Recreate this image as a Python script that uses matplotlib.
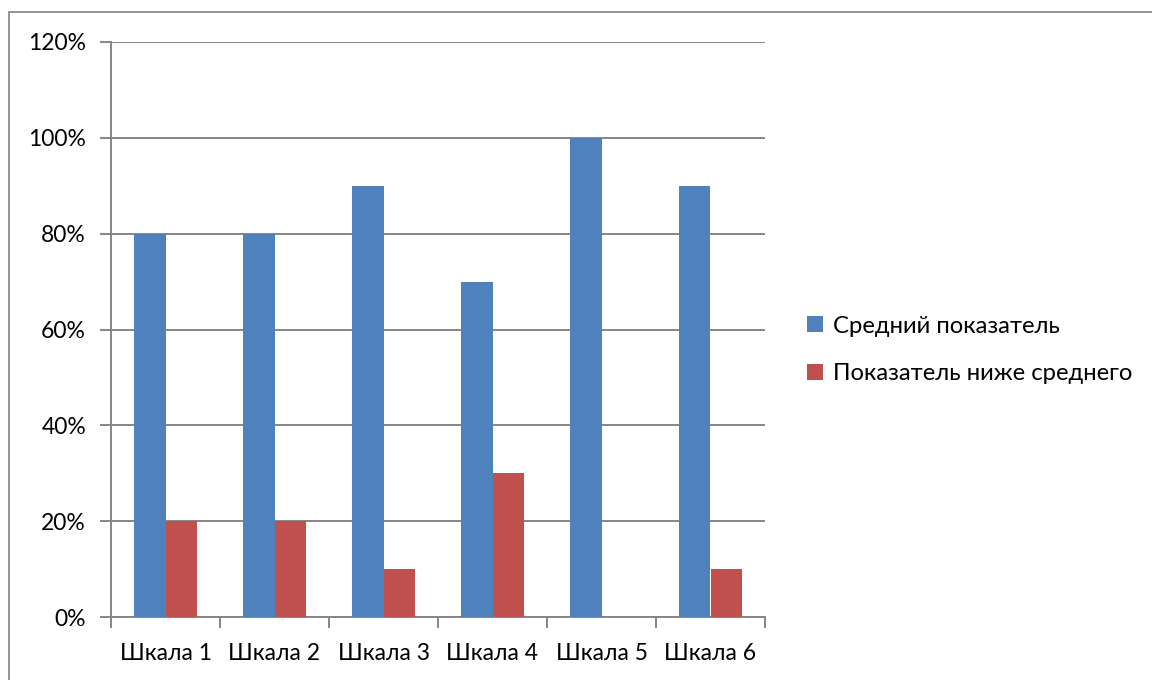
import matplotlib
matplotlib.use("Agg")
import matplotlib.pyplot as plt
from matplotlib.patches import Rectangle
from matplotlib.ticker import FixedLocator, PercentFormatter
import numpy as np

plt.rcParams['font.family'] = ['Lato', 'DejaVu Sans']

categories = ["Шкала 1", "Шкала 2", "Шкала 3", "Шкала 4", "Шкала 5", "Шкала 6"]
series_names = ["Средний показатель", "Показатель ниже среднего"]
avg_values = [80, 80, 90, 70, 100, 90]
below_values = [20, 20, 10, 30, 0, 10]
y_ticks = [0, 20, 40, 60, 80, 100, 120]

blue = "#4F81BD"
red = "#C0504D"
grid_gray = "#868686"
fs = 16.5

W, H = 1152, 680
fig = plt.figure(figsize=(W / 100, H / 100), dpi=100)
fig.patch.set_facecolor("white")

# outer chart-area frame
fig.add_artist(Rectangle((9 / W, -0.1), 1.2, (H - 12) / H + 0.1,
                         transform=fig.transFigure, fill=False,
                         edgecolor="#8C8C8C", linewidth=1.3))

ax = fig.add_axes([111 / W, 1 - 617 / H, (765 - 111) / W, (617 - 42) / H])

x = np.arange(len(categories))
bw = 1 / 3.5
ax.bar(x - bw / 2, avg_values, width=bw, color=blue, label=series_names[0], zorder=3)
ax.bar(x + bw / 2, below_values, width=bw, color=red, label=series_names[1], zorder=3)

ax.set_xlim(-0.5, len(categories) - 0.5)
ax.set_ylim(0, 120)
ax.set_yticks(y_ticks)
ax.yaxis.set_major_formatter(PercentFormatter(decimals=0))
ax.grid(axis="y", color=grid_gray, linewidth=1.4, zorder=0)

ax.set_xticks(x)
ax.set_xticklabels(categories)
ax.xaxis.set_minor_locator(FixedLocator(np.arange(-0.5, len(categories), 1.0)))
ax.tick_params(axis="x", which="major", length=0, pad=19, labelsize=fs)
ax.tick_params(axis="x", which="minor", length=8, width=1.4, color=grid_gray)
ax.tick_params(axis="y", length=8, width=1.4, color=grid_gray, pad=10, labelsize=fs)

for s in ("top", "right"):
    ax.spines[s].set_visible(False)
for s in ("left", "bottom"):
    ax.spines[s].set_color(grid_gray)
    ax.spines[s].set_linewidth(1.4)

leg = fig.legend(loc="center left", bbox_to_anchor=(800 / W, 1 - 350 / H),
                 frameon=False, fontsize=17.2, handlelength=0.65, handleheight=0.65,
                 handletextpad=0.45, labelspacing=1.1, borderaxespad=0, borderpad=0.3)

fig.savefig("out.png", dpi=100, facecolor="white")
